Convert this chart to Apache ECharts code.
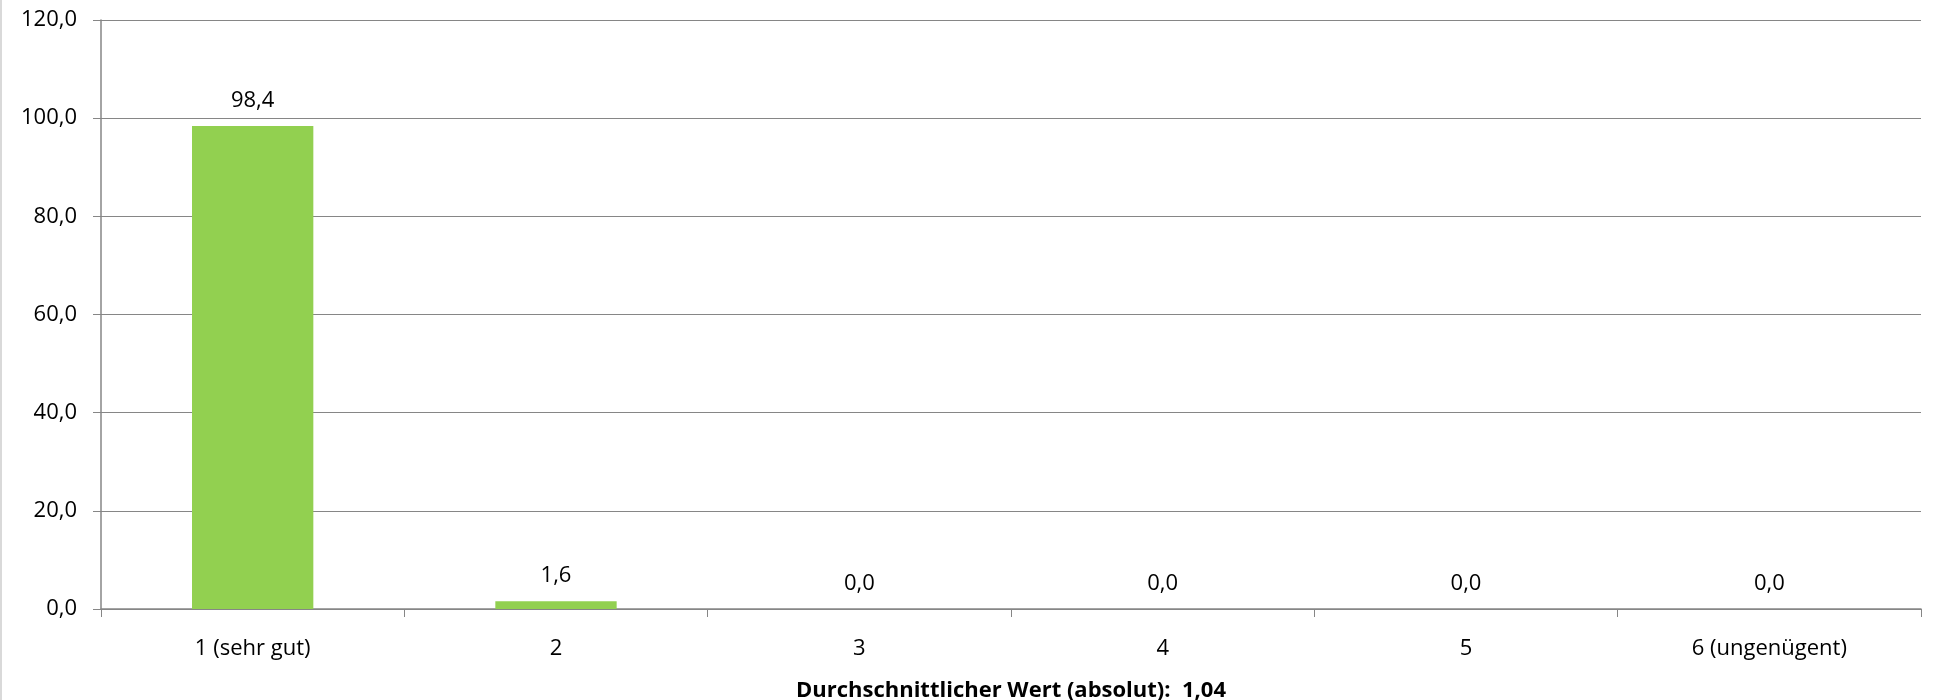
<!DOCTYPE html>
<html><head><meta charset="utf-8">
<script src="https://cdn.jsdelivr.net/npm/echarts@6/dist/echarts.min.js"></script>
<style>html,body{margin:0;padding:0;background:#fff}#c{width:1934px;height:700px}</style>
</head><body><div id="c"></div>
<script>
const categories = ['1 (sehr gut)', '2', '3', '4', '5', '6 (ungenügent)'];
const values = [98.4, 1.6, 0.0, 0.0, 0.0, 0.0];
const axisTitle = 'Durchschnittlicher Wert (absolut):  1,04';
const yMin = 0, yMax = 120, yStep = 20;

const fmt = v => v.toFixed(1).replace('.', ',');
const font = '"Open Sans", "Liberation Sans", sans-serif';
const chart = echarts.init(document.getElementById('c'));
chart.setOption({
  animation: false,
  graphic: [{type: 'line', shape: {x1: 1, y1: 0, x2: 1, y2: 700}, style: {stroke: '#d9d9d9', lineWidth: 2}}],
  grid: {left: 101, right: 13, top: 20, bottom: 91, containLabel: false, outerBoundsMode: 'none'},
  xAxis: {
    type: 'category', data: categories,
    axisLine: {lineStyle: {color: '#868686', width: 1.5}},
    axisTick: {show: true, length: 8, lineStyle: {color: '#868686'}},
    axisLabel: {color: '#000', fontFamily: font, fontSize: 22, margin: 29},
    name: axisTitle, nameLocation: 'middle', nameGap: 71,
    nameTextStyle: {color: '#000', fontFamily: font, fontSize: 22, fontWeight: 'bold'}
  },
  yAxis: {
    type: 'value', min: yMin, max: yMax, interval: yStep,
    axisLine: {show: true, lineStyle: {color: '#868686', width: 1.5}},
    axisTick: {show: true, length: 8, lineStyle: {color: '#868686'}},
    splitLine: {lineStyle: {color: '#868686', width: 1.2}},
    axisLabel: {color: '#000', fontFamily: font, fontSize: 22, margin: 24, formatter: v => fmt(v)}
  },
  series: [{
    type: 'bar', data: values, barWidth: '40%',
    itemStyle: {color: '#92D050'},
    label: {show: true, position: 'top', distance: 14, color: '#000', fontFamily: font, fontSize: 22, formatter: p => fmt(p.value)}
  }]
});
</script></body></html>
